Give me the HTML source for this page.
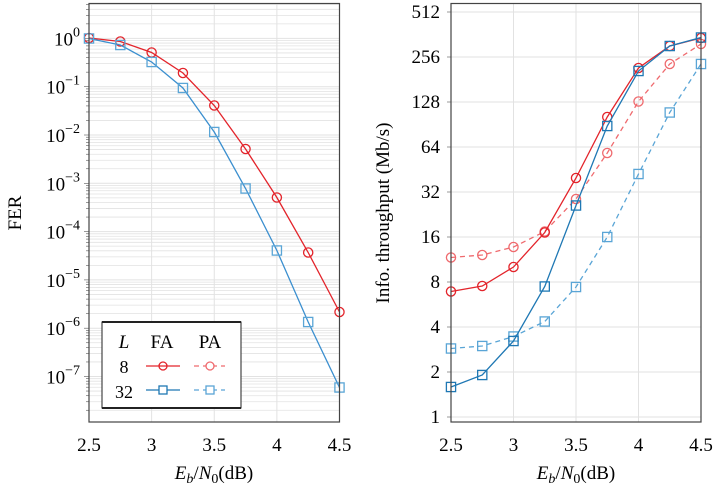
<!DOCTYPE html>
<html><head><meta charset="utf-8"><style>
html,body{margin:0;padding:0;background:#fff;}
svg{display:block;font-family:"Liberation Serif",serif;}
</style></head><body>
<svg id="s" width="720" height="490" xmlns="http://www.w3.org/2000/svg"></svg>
<script>
const s=document.getElementById('s');let h='';
const RED='#e3242b',RED2='#ef6a6e',BLU='#1f78b4',BLU2='#5aa5d6',BLUM='#3b8fcf';
const L0=89,L1=339.5,T=3.5,B=422;
const yL=e=>38.4-48.3*e;
for(let d=1;d>=-8;d--)for(let m=1;m<=9;m++){const y=yL(d-1+Math.log10(m));if(y>T&&y<B){h+=`<line x1="${L0}" x2="${L1}" y1="${y}" y2="${y}" stroke="#e2e2e2" stroke-width="${m==1?1:0.8}"/>`;h+=`<line x1="${L0-(m==1?5:3)}" x2="${L0}" y1="${y}" y2="${y}" stroke="#555" stroke-width="0.6"/>`;}}
for(let i=0;i<5;i++){const x=L0+i*62.625;h+=`<line x1="${x}" x2="${x}" y1="${T}" y2="${B}" stroke="#e2e2e2"/>`;h+=`<text x="${x}" y="451" font-size="19" text-anchor="middle">${['2.5','3','3.5','4','4.5'][i]}</text>`;}
for(let e=0;e>=-7;e--){const y=yL(e);h+=`<text x="80" y="${y+7}" font-size="19" text-anchor="end">10<tspan font-size="14" dy="-9">${e==0?'0':'\u2212'+(-e)}</tspan></text>`;}
const xs=i=>L0+i*31.3125;
function series(xf,ys,col,dash,mk,mcol){mcol=mcol||col;let p=ys.map((y,i)=>xf(i)+','+y).join(' ');h+=`<polyline points="${p}" fill="none" stroke="${col}" stroke-width="1.3" ${dash?'stroke-dasharray="5,4"':''}/>`;ys.forEach((y,i)=>{const x=xf(i);h+=mk=='o'?`<circle cx="${x}" cy="${y}" r="4.6" fill="none" stroke="${mcol}" stroke-width="1.3"/>`:`<rect x="${x-4.6}" y="${y-4.6}" width="9.2" height="9.2" fill="none" stroke="${mcol}" stroke-width="1.3"/>`;});}
series(xs,[38,41.5,52.5,73,105.5,149,197.5,252.5,312],RED,0,'o');
series(xs,[38.5,45,62,88,132,188.5,250.5,322,387.5],BLUM,0,'s',BLU2);
h+=`<rect x="${L0}" y="${T}" width="${L1-L0}" height="${B-T}" fill="none" stroke="#444" stroke-width="1.2"/>`;
h+=`<rect x="102" y="322" width="139" height="86" fill="#fff" stroke="#222" stroke-width="1"/><line x1="102" x2="241" y1="322" y2="322" stroke="#222" stroke-width="2"/><line x1="102" x2="241" y1="408" y2="408" stroke="#222" stroke-width="2"/>`;
h+=`<text x="124" y="348" font-size="19" text-anchor="middle" font-style="italic">L</text><text x="162" y="348" font-size="19" text-anchor="middle">FA</text><text x="210" y="348" font-size="19" text-anchor="middle">PA</text>`;
h+=`<text x="124" y="373" font-size="18" text-anchor="middle">8</text><text x="124" y="398" font-size="18" text-anchor="middle">32</text>`;
h+=`<line x1="146" x2="180" y1="366" y2="366" stroke="${RED}" stroke-width="1.3"/><circle cx="163" cy="366" r="4" fill="none" stroke="${RED}" stroke-width="1.3"/>`;
h+=`<line x1="194" x2="225" y1="366" y2="366" stroke="${RED2}" stroke-width="1.3" stroke-dasharray="5,4"/><circle cx="210" cy="366" r="4" fill="#fff" stroke="${RED2}" stroke-width="1.3"/>`;
h+=`<line x1="146" x2="180" y1="390" y2="390" stroke="${BLU}" stroke-width="1.3"/><rect x="159" y="386" width="8" height="8" fill="#fff" stroke="${BLU}" stroke-width="1.3"/>`;
h+=`<line x1="194" x2="225" y1="390" y2="390" stroke="${BLU2}" stroke-width="1.3" stroke-dasharray="5,4"/><rect x="206" y="386" width="8" height="8" fill="#fff" stroke="${BLU2}" stroke-width="1.3"/>`;
h+=`<text transform="translate(21,213) rotate(-90)" font-size="19" text-anchor="middle">FER</text>`;
const xl=x=>`<text x="${x}" y="479" font-size="19" text-anchor="middle"><tspan font-style="italic">E</tspan><tspan font-style="italic" font-size="14" dy="4">b</tspan><tspan dy="-4">/</tspan><tspan font-style="italic">N</tspan><tspan font-size="14" dy="4">0</tspan><tspan dy="-4">(dB)</tspan></text>`;
h+=xl(214);
const R0=451,R1=701;
for(let k=0;k<=9;k++){const y=417-45*k;h+=`<line x1="${R0}" x2="${R1}" y1="${y}" y2="${y}" stroke="#e2e2e2"/><line x1="${R0-4}" x2="${R0}" y1="${y}" y2="${y}" stroke="#555" stroke-width="0.6"/><text x="440" y="${y+6}" font-size="19" text-anchor="end">${2**k}</text>`;}
for(let i=0;i<5;i++){const x=R0+i*62.5;h+=`<line x1="${x}" x2="${x}" y1="${T}" y2="${B}" stroke="#e2e2e2"/>`;h+=`<text x="${x}" y="451" font-size="19" text-anchor="middle">${['2.5','3','3.5','4','4.5'][i]}</text>`;}
const xr=i=>R0+i*31.25;
series(xr,[257.5,255,247,231.5,199,153,101.5,64,44],RED2,1,'o');
series(xr,[348.5,346,336.5,321.5,287,237,174,112.5,64],BLU2,1,'s');
series(xr,[291.5,286,267,232.5,178,117,68,46,38],RED,0,'o');
series(xr,[387,375,341,286.5,205.5,126,71,46,37.5],BLU,0,'s');
h+=`<rect x="${R0}" y="${T}" width="${R1-R0}" height="${B-T}" fill="none" stroke="#444" stroke-width="1.2"/>`;
h+=`<text transform="translate(389,213) rotate(-90)" font-size="19" text-anchor="middle">Info. throughput (Mb/s)</text>`;
h+=xl(576);
s.innerHTML=h;
</script>
</body></html>
